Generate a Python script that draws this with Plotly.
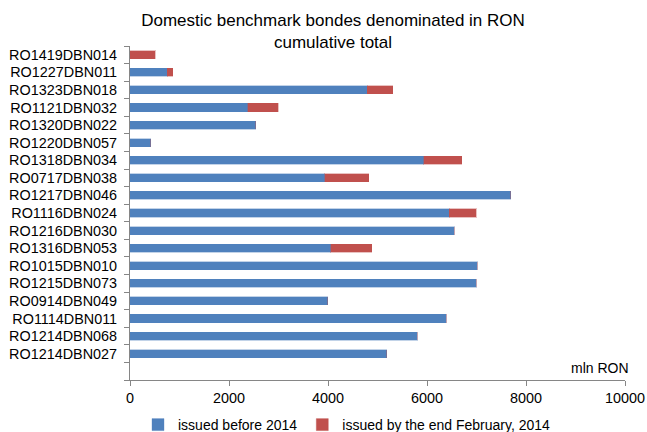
import plotly.graph_objects as go

categories = ["RO1419DBN014", "RO1227DBN011", "RO1323DBN018", "RO1121DBN032",
              "RO1320DBN022", "RO1220DBN057", "RO1318DBN034", "RO0717DBN038",
              "RO1217DBN046", "RO1116DBN024", "RO1216DBN030", "RO1316DBN053",
              "RO1015DBN010", "RO1215DBN073", "RO0914DBN049", "RO1114DBN011",
              "RO1214DBN068", "RO1214DBN027", " "]
issued_before_2014 = [0, 750, 4790, 2380, 2540, 415, 5930, 3930, 7690, 6450,
                      6550, 4060, 7020, 6990, 3990, 6390, 5800, 5190, None]
issued_feb_2014 = [505, 110, 520, 610, 0, 0, 770, 890, 0, 540,
                   0, 820, 0, 0, 0, 0, 0, 0, None]
x_ticks = [0, 2000, 4000, 6000, 8000, 10000]
x_tick_labels = ["0", "2000", "4000", "6000", "8000", "10000"]

FONT = "Liberation Sans, Arial, sans-serif"
BLUE = "#4F81BD"
RED = "#C0504D"
AXIS = "#868686"

fig = go.Figure()
fig.add_trace(go.Bar(
    y=categories, x=issued_before_2014, orientation="h",
    name="issued before 2014", marker=dict(color=BLUE, line=dict(color="rgba(79,129,189,0.35)", width=1)),
))
fig.add_trace(go.Bar(
    y=categories, x=issued_feb_2014, orientation="h",
    name="issued by the end February, 2014", marker=dict(color=RED, line=dict(color="rgba(192,80,77,0.35)", width=1)),
))

fig.update_layout(
    width=647, height=432,
    barmode="stack", bargap=0.54,
    plot_bgcolor="white", paper_bgcolor="white",
    margin=dict(l=130, r=22, t=46, b=52, autoexpand=False),
    font=dict(family=FONT, size=14, color="#000000"),
    title=dict(text="Domestic benchmark bondes denominated in RON<br>cumulative total",
               x=333 / 647, xanchor="center", y=1 - 26 / 432, yanchor="top",
               font=dict(family=FONT, size=17, color="#000000")),
    showlegend=True,
    legend=dict(orientation="h", xref="container", yref="container",
                x=138 / 647, xanchor="left", y=1 - 425 / 432, yanchor="middle",
                font=dict(family=FONT, size=14), itemwidth=30, traceorder="normal",
                bgcolor="rgba(0,0,0,0)"),
    xaxis=dict(range=[0, 10000], tickvals=x_ticks, ticktext=x_tick_labels,
               showgrid=False, zeroline=False,
               showline=True, linecolor=AXIS, linewidth=1, ticks="outside", ticklen=5,
               tickcolor=AXIS, tickfont=dict(family=FONT, size=14.4)),
    yaxis=dict(autorange="reversed", type="category", showgrid=False, showline=True,
               tickmode="array", tickvals=categories, ticktext=categories,
               linecolor=AXIS, linewidth=1, ticks="outside", ticklen=5, tickcolor=AXIS,
               tickson="boundaries", tickfont=dict(family=FONT, size=14.4),
               ticklabelstandoff=9),
)
fig.add_annotation(text="mln RON", xref="paper", yref="paper", x=1.012, y=0.005,
                   xanchor="right", yanchor="bottom", showarrow=False,
                   font=dict(family=FONT, size=14))

fig.write_html("out.html")
